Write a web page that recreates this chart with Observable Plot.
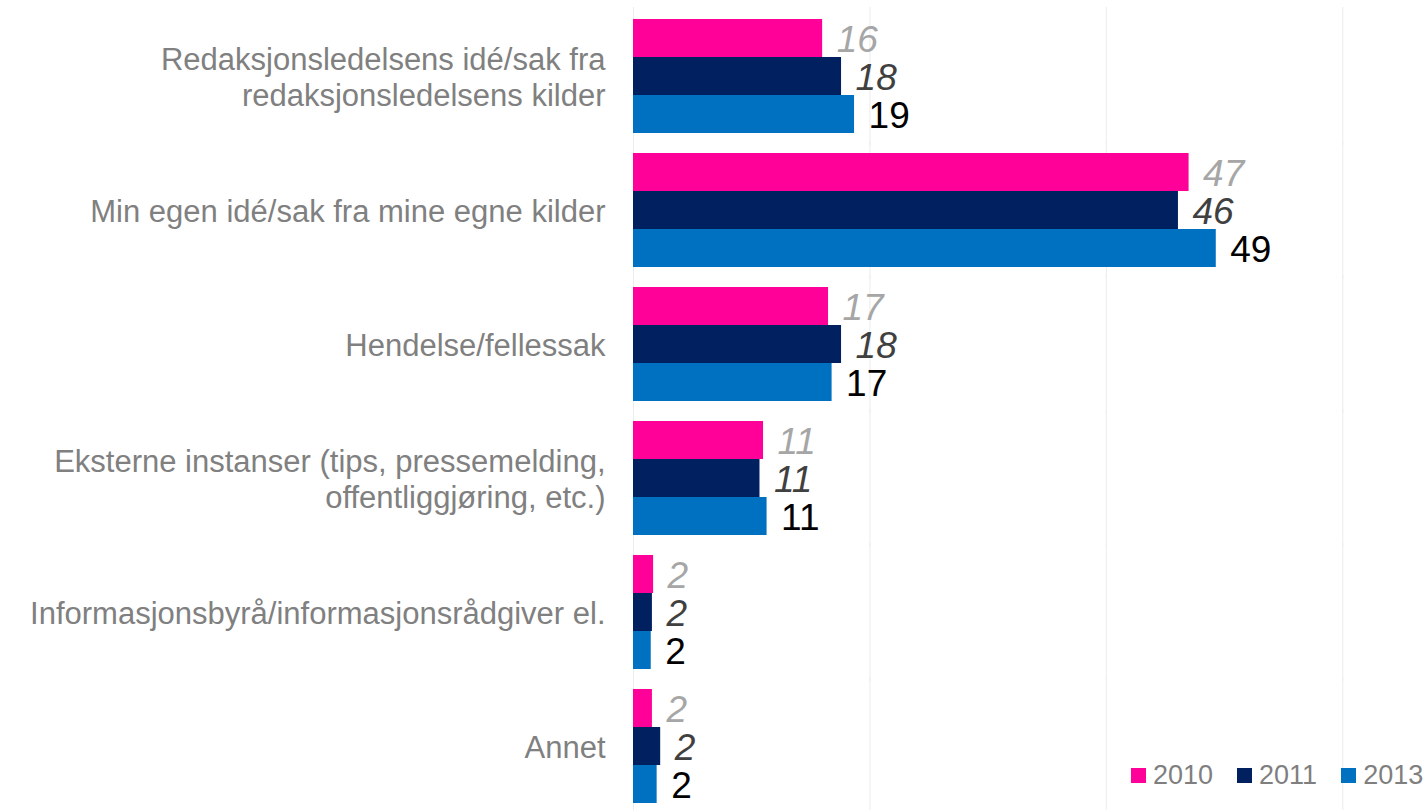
<!DOCTYPE html>
<html>
<head>
<meta charset="utf-8">
<script src="https://cdn.jsdelivr.net/npm/d3@7"></script>
<script src="https://cdn.jsdelivr.net/npm/@observablehq/plot@0.6"></script>
<style>
  html, body { margin: 0; padding: 0; background: #fff; }
  #wrap { position: relative; width: 1425px; height: 810px; font-family: "Liberation Sans", Arial, sans-serif; }
  #legend { position: absolute; left: 1131px; top: 760px; display: flex; align-items: center; font-size: 27px; color: #7f7f7f; }
  #legend .item { display: flex; align-items: center; margin-right: 24px; }
  #legend .item:last-child { margin-right: 0; }
  #legend .sw { width: 15px; height: 15px; margin-right: 7px; }
</style>
</head>
<body>
<div id="wrap"><div id="legend"></div></div>
<script>
const categories = [
  "Redaksjonsledelsens idé/sak fra\nredaksjonsledelsens kilder",
  "Min egen idé/sak fra mine egne kilder",
  "Hendelse/fellessak",
  "Eksterne instanser (tips, pressemelding,\noffentliggjøring, etc.)",
  "Informasjonsbyrå/informasjonsrådgiver el.",
  "Annet"
];
const years = ["2010", "2011", "2013"];
const values2010 = [16.0, 47.0, 16.5, 11.0, 1.7, 1.6];
const values2011 = [17.6, 46.1, 17.6, 10.7, 1.6, 2.3];
const values2013 = [18.7, 49.3, 16.8, 11.3, 1.5, 2.0];
const colors = ["#ff0099", "#002060", "#0070c0"];
const labelColors = ["#a6a6a6", "#404040", "#000000"];
const labelStyles = ["italic", "italic", "normal"];
const gridTicks = [0, 20, 40, 60];

const series = [values2010, values2011, values2013];
const data = [];
categories.forEach((c, i) => {
  years.forEach((y, j) => data.push({category: c, year: y, value: series[j][i]}));
});

const textMarks = years.map((y, j) => Plot.text(data.filter(d => d.year === y), {
  fy: "category", y: "year", x: "value",
  text: d => String(Math.round(d.value)),
  textAnchor: "start", dx: 14, dy: 2,
  fontSize: 37, fontStyle: labelStyles[j], fill: labelColors[j]
}));

const chart = Plot.plot({
  width: 1425,
  height: 810,
  marginLeft: 633,
  marginRight: 0,
  marginTop: 18,
  marginBottom: 6,
  style: {fontFamily: "'Liberation Sans', Arial, sans-serif", background: "transparent"},
  x: {domain: [0, 67], axis: null},
  y: {domain: years, padding: 0, axis: null},
  fy: {domain: categories, paddingInner: 0.152, paddingOuter: 0, label: null},
  color: {domain: years, range: colors},
  marks: [
    Plot.ruleX(gridTicks, {stroke: "#ececec", strokeWidth: 1, insetTop: -12, insetBottom: -12}),
    Plot.barX(data, {fy: "category", y: "year", x: "value", fill: "year"}),
    ...textMarks,
    Plot.axisFy({anchor: "left", tickSize: 0, tickPadding: 28, fontSize: 31, lineHeight: 1.17, color: "#808080", textAnchor: "end", label: null})
  ]
});
document.getElementById("wrap").prepend(chart);

const legend = document.getElementById("legend");
years.forEach((y, j) => {
  const it = document.createElement("div");
  it.className = "item";
  it.innerHTML = `<div class="sw" style="background:${colors[j]}"></div><span>${y}</span>`;
  legend.appendChild(it);
});
</script>
</body>
</html>
